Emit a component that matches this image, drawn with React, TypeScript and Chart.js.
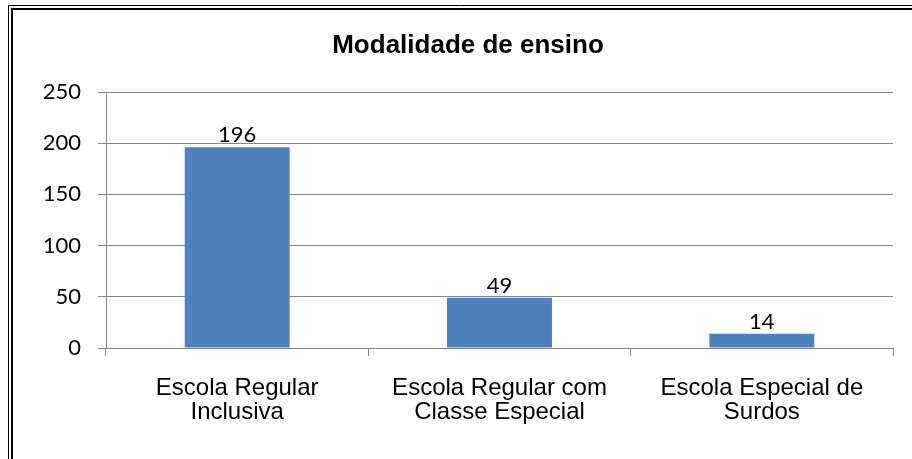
import React, { useEffect, useRef } from "react";
import { Chart, registerables } from "chart.js";

Chart.register(...registerables);

const titleText = "Modalidade de ensino";
const categories: string[][] = [
  ["Escola Regular", "Inclusiva"],
  ["Escola Regular com", "Classe Especial"],
  ["Escola Especial de", "Surdos"],
];
const values: number[] = [196, 49, 14];
const yMin = 0;
const yMax = 250;
const yStep = 50;

const GRID = "#868686";
const BAR = "#4F81BD";

const framePlugin = {
  id: "frame",
  beforeDraw(chart: any) {
    const { ctx, width, height } = chart;
    ctx.save();
    ctx.fillStyle = "#ffffff";
    ctx.fillRect(0, 0, width, height);
    ctx.strokeStyle = "#000000";
    ctx.lineWidth = 1;
    ctx.beginPath();
    ctx.moveTo(8.5, height);
    ctx.lineTo(8.5, 5.5);
    ctx.lineTo(width, 5.5);
    ctx.stroke();
    ctx.lineWidth = 2;
    ctx.beginPath();
    ctx.moveTo(12, height);
    ctx.lineTo(12, 9);
    ctx.lineTo(width, 9);
    ctx.stroke();
    ctx.restore();
  },
  afterDraw(chart: any) {
    const { ctx } = chart;
    ctx.save();
    ctx.fillStyle = "#000000";
    ctx.font = "bold 26px 'Liberation Sans', Arial, sans-serif";
    ctx.textAlign = "center";
    ctx.textBaseline = "middle";
    ctx.fillText(titleText, 468, 46);
    ctx.restore();
  },
};

const labelPlugin = {
  id: "barLabels",
  afterDatasetsDraw(chart: any) {
    const { ctx } = chart;
    const meta = chart.getDatasetMeta(0);
    ctx.save();
    ctx.fillStyle = "#000000";
    ctx.font = "22px Lato, 'Open Sans', sans-serif";
    ctx.textAlign = "center";
    ctx.textBaseline = "alphabetic";
    meta.data.forEach((el: any, i: number) => {
      ctx.fillText(String(values[i]), el.x, el.y - 5);
    });
    ctx.restore();
  },
};

export default function App() {
  const ref = useRef<HTMLCanvasElement | null>(null);

  useEffect(() => {
    if (!ref.current) return;
    const chart = new Chart(ref.current, {
      type: "bar",
      data: {
        labels: categories,
        datasets: [
          {
            data: values,
            backgroundColor: BAR,
            borderWidth: 0,
            barPercentage: 0.4,
            categoryPercentage: 1,
          },
        ],
      },
      options: {
        responsive: false,
        animation: false,
        devicePixelRatio: 1,
        layout: { padding: { top: 92, right: 19, bottom: 0, left: 0 } },
        plugins: {
          legend: { display: false },
          title: { display: false },
          tooltip: { enabled: false },
        },
        scales: {
          x: {
            offset: true,
            grid: {
              offset: true,
              drawOnChartArea: false,
              drawTicks: true,
              tickLength: 8,
              color: GRID,
            },
            border: { display: true, color: GRID },
            ticks: {
              color: "#000000",
              padding: 20,
              maxRotation: 0,
              autoSkip: false,
              font: { family: "'Liberation Sans', Arial, sans-serif", size: 24, lineHeight: 1.0 },
            },
            afterFit: (s: any) => {
              s.height = 111;
            },
          },
          y: {
            min: yMin,
            max: yMax,
            grid: {
              color: GRID,
              tickLength: 8,
              drawTicks: true,
            },
            border: { display: true, color: GRID },
            ticks: {
              stepSize: yStep,
              color: "#000000",
              padding: 17,
              font: { family: "Lato, 'Open Sans', sans-serif", size: 22 },
            },
            afterFit: (s: any) => {
              s.width = 106;
            },
          },
        },
      },
      plugins: [framePlugin, labelPlugin],
    });
    return () => chart.destroy();
  }, []);

  return (
    <div style={{ position: "fixed", left: 0, top: 0, width: 912, height: 459, background: "#fff" }}>
      <canvas ref={ref} width={912} height={459} style={{ display: "block" }} />
    </div>
  );
}
